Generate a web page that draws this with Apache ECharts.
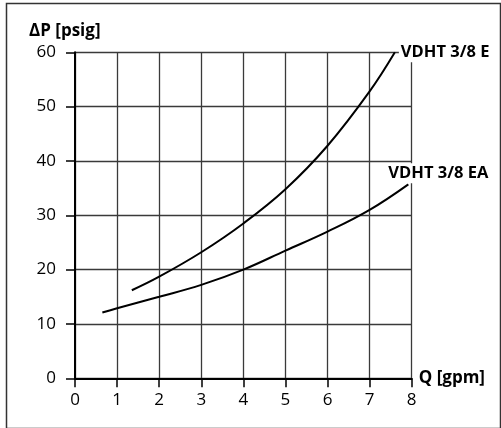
<!DOCTYPE html>
<html>
<head>
<meta charset="utf-8">
<script src="https://cdn.jsdelivr.net/npm/echarts@6/dist/echarts.min.js"></script>
<style>html,body{margin:0;padding:0;background:#fff}#c{width:501px;height:428px}</style>
</head>
<body>
<div id="c"></div>
<script>
// Data
const xTicks = [0, 1, 2, 3, 4, 5, 6, 7, 8];
const yTicks = [0, 10, 20, 30, 40, 50, 60];
const seriesNames = ['VDHT 3/8 E', 'VDHT 3/8 EA'];
const qE  = [1.35, 2, 3, 4, 5, 6, 7, 7.6];
const dpE = [16.2, 18.7, 23.2, 28.5, 34.8, 42.8, 52.8, 60];
const qEA  = [0.65, 1, 2, 3, 4, 5, 6, 7, 7.92];
const dpEA = [12.1, 12.9, 15.0, 17.2, 20.0, 23.5, 27.0, 31.0, 35.7];

const FONT = '"Open Sans", "Noto Sans", sans-serif';
const pairs = (xs, ys) => xs.map((x, i) => [x, ys[i]]);

const chart = echarts.init(document.getElementById('c'), null, {renderer: 'canvas'});

function endMark(xs, ys, name, pos) {
  const n = xs.length - 1;
  return {
    symbol: 'circle', symbolSize: 0, silent: true, animation: false,
    data: [{
      coord: [xs[n], ys[n]],
      label: {
        show: true, formatter: name, position: pos,
        align: 'left', verticalAlign: 'middle',
        fontFamily: FONT, fontWeight: 'bold', fontSize: 16.5, color: '#000',
        backgroundColor: '#fff', padding: [2, 2, 1, 2]
      }
    }]
  };
}

chart.setOption({
  animation: false,
  backgroundColor: '#fff',
  title: {
    text: 'ΔP [psig]', left: 24, top: 18,
    textStyle: {fontFamily: FONT, fontWeight: 'bold', fontSize: 17, color: '#000'}
  },
  graphic: [{
    type: 'rect', left: 4, top: 1, silent: true,
    shape: {width: 494, height: 425},
    style: {fill: 'none', stroke: '#333', lineWidth: 1.5}
  }],
  grid: {left: 75, right: 89.3, top: 52.3, bottom: 49.7},
  xAxis: {
    type: 'value', min: xTicks[0], max: xTicks[xTicks.length - 1], interval: 1,
    name: 'Q [gpm]', nameLocation: 'end', nameGap: 7,
    nameTextStyle: {fontFamily: FONT, fontWeight: 'bold', fontSize: 17, color: '#000', verticalAlign: 'middle', align: 'left'},
    axisLine: {show: true, onZero: false, lineStyle: {color: '#000', width: 2}},
    axisTick: {show: true, length: 9, lineStyle: {color: '#000', width: 1.5}},
    axisLabel: {margin: 13, fontFamily: FONT, fontSize: 17, color: '#000'},
    splitLine: {show: true, lineStyle: {color: '#3a3a3a', width: 1.3}}
  },
  yAxis: {
    type: 'value', min: yTicks[0], max: yTicks[yTicks.length - 1], interval: 10,
    axisLine: {show: true, onZero: false, lineStyle: {color: '#000', width: 2}},
    axisTick: {show: true, length: 9, lineStyle: {color: '#000', width: 1.5}},
    axisLabel: {margin: 19, fontFamily: FONT, fontSize: 17, color: '#000'},
    splitLine: {show: true, lineStyle: {color: '#3a3a3a', width: 1.3}}
  },
  series: [
    {
      name: seriesNames[0], type: 'line', smooth: 0.4, symbol: 'none',
      lineStyle: {color: '#000', width: 2},
      data: pairs(qE, dpE), z: 3,
      markPoint: endMark(qE, dpE, seriesNames[0], [4, 0])
    },
    {
      name: seriesNames[1], type: 'line', smooth: 0.4, symbol: 'none',
      lineStyle: {color: '#000', width: 2},
      data: pairs(qEA, dpEA), z: 3,
      markPoint: endMark(qEA, dpEA, seriesNames[1], [-22, -11])
    }
  ]
});
</script>
</body>
</html>
